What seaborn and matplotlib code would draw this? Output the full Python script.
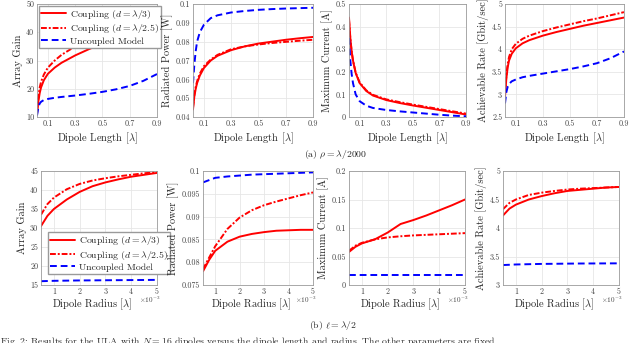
import matplotlib
matplotlib.use("Agg")
import matplotlib.pyplot as plt
import numpy as np
import pandas as pd
import seaborn as sns

# Top row: dipole length sweep (rho = lambda/2000)
len_x = [0.02, 0.03, 0.04, 0.05, 0.07, 0.1, 0.15, 0.2, 0.3, 0.4, 0.5, 0.6, 0.7, 0.8, 0.9]
gain_c3 = [11, 15.5, 18.5, 20.5, 23, 25.3, 27.5, 29.2, 31.8, 34, 36, 38, 40, 42, 44]
gain_c25 = [12, 17, 20.5, 22.5, 25, 27.5, 30, 32, 35, 37.2, 39.2, 41.2, 43.3, 45.5, 47.5]
gain_un = [10.5, 13.5, 14.8, 15.4, 16, 16.4, 16.8, 17.1, 17.6, 18.2, 18.9, 19.8, 21, 22.8, 25.2]

pow_c3 = [0.044, 0.051, 0.055, 0.058, 0.062, 0.066, 0.070, 0.0725, 0.0755, 0.0775, 0.079, 0.080, 0.081, 0.0818, 0.0825]
pow_c25 = [0.045, 0.052, 0.056, 0.059, 0.063, 0.067, 0.0705, 0.073, 0.076, 0.0775, 0.0785, 0.0793, 0.0799, 0.0805, 0.081]
pow_un = [0.058, 0.068, 0.075, 0.080, 0.085, 0.089, 0.0925, 0.094, 0.0955, 0.0963, 0.0969, 0.0973, 0.0976, 0.0978, 0.098]

cur_c3 = [0.44, 0.35, 0.29, 0.25, 0.195, 0.15, 0.115, 0.095, 0.075, 0.062, 0.051, 0.041, 0.031, 0.021, 0.011]
cur_c25 = [0.43, 0.345, 0.29, 0.25, 0.197, 0.153, 0.118, 0.098, 0.078, 0.066, 0.055, 0.045, 0.035, 0.025, 0.015]
cur_un = [0.35, 0.25, 0.19, 0.15, 0.10, 0.07, 0.05, 0.04, 0.031, 0.025, 0.02, 0.015, 0.01, 0.006, 0.003]

rate_c3 = [2.95, 3.35, 3.6, 3.75, 3.9, 4.02, 4.13, 4.2, 4.3, 4.38, 4.45, 4.52, 4.58, 4.64, 4.7]
rate_c25 = [3.0, 3.42, 3.68, 3.83, 4.0, 4.12, 4.23, 4.3, 4.4, 4.48, 4.55, 4.62, 4.68, 4.75, 4.82]
rate_un = [2.8, 3.05, 3.17, 3.23, 3.29, 3.33, 3.38, 3.41, 3.46, 3.51, 3.56, 3.62, 3.69, 3.8, 3.95]

# Bottom row: dipole radius sweep (x in units of 1e-3 lambda, l = lambda/2)
rad_x = [0.5, 0.75, 1, 1.5, 2, 2.5, 3, 3.5, 4, 4.5, 5]
gain_r_c3 = [30.5, 33.2, 35, 37.5, 39.5, 41, 42, 42.8, 43.5, 44, 44.5]
gain_r_c25 = [33.5, 36.3, 38, 40.2, 41.6, 42.5, 43.1, 43.6, 44, 44.4, 44.7]
gain_r_un = [16.0, 16.05, 16.1, 16.15, 16.2, 16.22, 16.25, 16.27, 16.3, 16.32, 16.35]

pow_r_c3 = [0.078, 0.0805, 0.0825, 0.0845, 0.0856, 0.0862, 0.0866, 0.0869, 0.087, 0.0871, 0.0871]
pow_r_c25 = [0.0785, 0.081, 0.0835, 0.0873, 0.0898, 0.0914, 0.0925, 0.0933, 0.094, 0.0947, 0.0953]
pow_r_un = [0.0975, 0.098, 0.0985, 0.0988, 0.099, 0.0992, 0.0993, 0.0994, 0.0995, 0.0996, 0.0997]

cur_r_c3 = [0.058, 0.067, 0.073, 0.08, 0.092, 0.107, 0.114, 0.122, 0.131, 0.14, 0.15]
cur_r_c25 = [0.060, 0.069, 0.074, 0.08, 0.0835, 0.0855, 0.087, 0.088, 0.089, 0.09, 0.091]
cur_r_un = [0.017, 0.017, 0.017, 0.017, 0.017, 0.017, 0.017, 0.017, 0.017, 0.017, 0.017]

rate_r_c3 = [4.22, 4.34, 4.41, 4.5, 4.56, 4.61, 4.65, 4.67, 4.69, 4.71, 4.72]
rate_r_c25 = [4.33, 4.44, 4.5, 4.58, 4.62, 4.65, 4.675, 4.69, 4.7, 4.71, 4.72]
rate_r_un = [3.35, 3.355, 3.36, 3.365, 3.37, 3.372, 3.375, 3.377, 3.378, 3.379, 3.38]

labels = [r"Coupling ($d=\lambda/3$)", r"Coupling ($d=\lambda/2.5$)", "Uncoupled Model"]

sns.set_style("whitegrid")
plt.rcParams["font.family"] = ["cmr10", "DejaVu Serif"]
plt.rcParams["mathtext.fontset"] = "cm"
plt.rcParams["axes.unicode_minus"] = False
plt.rcParams["axes.formatter.use_mathtext"] = True

fig = plt.figure(figsize=(6.4, 3.43), dpi=100)

top_pos = [(37, 120), (193, 120), (349, 117), (505, 119)]
bot_pos = [(41, 116), (203, 110), (349, 116), (503, 116)]
W, H = 640, 343


def draw(ax, x, c3, c25, un):
    sns.lineplot(x=x, y=c3, ax=ax, color="#ff0000", lw=1.4, label=labels[0])
    sns.lineplot(x=x, y=c25, ax=ax, color="#ff0000", lw=1.4, linestyle=(0, (3, 1, 1, 1)), label=labels[1])
    sns.lineplot(x=x, y=un, ax=ax, color="#0000ff", lw=1.4, linestyle=(0, (3.5, 2)), label=labels[2])
    ax.get_legend().remove()
    ax.grid(True, color="#e6e6e6", lw=0.6)
    for s in ax.spines.values():
        s.set_color("#9a9a9a")
        s.set_linewidth(0.6)
    ax.tick_params(labelsize=5.8, colors="#444444", length=2, direction="in", pad=2)


top = [
    (gain_c3, gain_c25, gain_un, "Array Gain", (10, 50), [10, 20, 30, 40, 50], ["10", "20", "30", "40", "50"]),
    (pow_c3, pow_c25, pow_un, "Radiated Power [W]", (0.04, 0.1), [0.04, 0.05, 0.06, 0.07, 0.08, 0.09, 0.1],
     ["0.04", "0.05", "0.06", "0.07", "0.08", "0.09", "0.1"]),
    (cur_c3, cur_c25, cur_un, "Maximum Current [A]", (0, 0.5), [0, 0.1, 0.2, 0.3, 0.4, 0.5],
     ["0", "0.1", "0.2", "0.3", "0.4", "0.5"]),
    (rate_c3, rate_c25, rate_un, "Achievable Rate [Gbit/sec]", (2.5, 5), [2.5, 3, 3.5, 4, 4.5, 5],
     ["2.5", "3", "3.5", "4", "4.5", "5"]),
]
bottom = [
    (gain_r_c3, gain_r_c25, gain_r_un, "Array Gain", (15, 45), [15, 20, 25, 30, 35, 40, 45],
     ["15", "20", "25", "30", "35", "40", "45"]),
    (pow_r_c3, pow_r_c25, pow_r_un, "Radiated Power [W]", (0.075, 0.1), [0.075, 0.08, 0.085, 0.09, 0.095, 0.1],
     ["0.075", "0.08", "0.085", "0.09", "0.095", "0.1"]),
    (cur_r_c3, cur_r_c25, cur_r_un, "Maximum Current [A]", (0, 0.2), [0, 0.05, 0.1, 0.15, 0.2],
     ["0", "0.05", "0.1", "0.15", "0.2"]),
    (rate_r_c3, rate_r_c25, rate_r_un, "Achievable Rate [Gbit/sec]", (3, 5), [3, 3.5, 4, 4.5, 5],
     ["3", "3.5", "4", "4.5", "5"]),
]

axes_top = []
for (left, w), (c3, c25, un, ylab, ylim, yt, ytl) in zip(top_pos, top):
    ax = fig.add_axes([left / W, (H - 117) / H, w / W, 113 / H])
    draw(ax, len_x, c3, c25, un)
    ax.set_xlim(0.02, 0.9)
    ax.set_xticks([0.1, 0.3, 0.5, 0.7, 0.9])
    ax.set_xticklabels(["0.1", "0.3", "0.5", "0.7", "0.9"])
    ax.set_ylim(*ylim)
    ax.set_yticks(yt)
    ax.set_yticklabels(ytl)
    ax.set_xlabel(r"Dipole Length [$\lambda$]", fontsize=7.5, labelpad=2)
    ax.set_ylabel(ylab, fontsize=7.5, labelpad=2)
    axes_top.append(ax)

axes_bot = []
for (left, w), (c3, c25, un, ylab, ylim, yt, ytl) in zip(bot_pos, bottom):
    ax = fig.add_axes([left / W, (H - 285) / H, w / W, 114 / H])
    draw(ax, rad_x, c3, c25, un)
    ax.set_xlim(0.5, 5)
    ax.set_xticks([1, 2, 3, 4, 5])
    ax.set_xticklabels(["1", "2", "3", "4", "5"])
    ax.set_ylim(*ylim)
    ax.set_yticks(yt)
    ax.set_yticklabels(ytl)
    ax.set_xlabel(r"Dipole Radius [$\lambda$]", fontsize=7.5, labelpad=2)
    ax.set_ylabel(ylab, fontsize=7.5, labelpad=2)
    ax.text(1.0 + 3 / w, -0.13, r"$\times10^{-3}$", transform=ax.transAxes, fontsize=5.2,
            color="#444444", ha="right", va="center")
    axes_bot.append(ax)

# nudge the x labels left a bit so the exponent fits beside them
for ax in axes_bot:
    ax.xaxis.set_label_coords(0.44, -0.1, transform=ax.transAxes)
    ax.xaxis.label.set_va("top")

leg_kw = dict(fontsize=7, frameon=True, fancybox=False, edgecolor="#9a9a9a", framealpha=1,
              handlelength=2.6, borderpad=0.2, labelspacing=0.15, handletextpad=0.4, borderaxespad=0.2)
axes_top[0].legend(*axes_top[0].get_legend_handles_labels(), loc="upper left", **leg_kw)
axes_bot[0].legend(*axes_bot[0].get_legend_handles_labels(), loc="upper left",
                   bbox_to_anchor=(0.04, 0.48), **leg_kw)

fig.text(0.525, 1 - 154 / H, r"(a) $\rho = \lambda/2000$", fontsize=7, ha="center", va="center")
fig.text(0.52, 1 - 325 / H, r"(b) $\ell = \lambda/2$", fontsize=7, ha="center", va="center")
fig.text(0.0, 1 - 341 / H, r"Fig. 2: Results for the ULA with $N = 16$ dipoles versus the dipole length and radius. The other parameters are fixed",
         fontsize=7, ha="left", va="center")

fig.savefig("out.png", dpi=100)
